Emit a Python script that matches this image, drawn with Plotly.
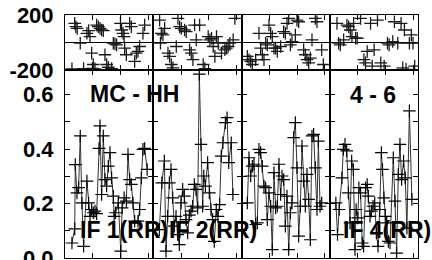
import plotly.graph_objects as go
from plotly.subplots import make_subplots

# ---- data (time in hours, amplitude in Jy, phase in degrees) ----
if_labels = ["IF 1(RR)", "IF 2(RR)", "", "IF 4(RR)"]

amp_t1 = [0.25, 0.35, 0.37, 0.43, 0.49, 0.55, 0.61, 0.67, 0.79, 0.85, 0.90, 0.96, 1.02, 1.08, 1.14,
          1.23, 1.26, 1.32, 1.38, 1.44, 1.50, 1.56, 1.62, 1.68, 1.74, 1.77, 1.82, 1.92, 2.01, 2.06,
          2.13, 2.21, 2.27, 2.33, 2.39, 2.45, 2.51, 2.63, 2.69, 2.75, 2.81, 2.87, 2.96]
amp_v1 = [0.055, 0.107, 0.343, 0.239, 0.258, 0.448, 0.202, 0.043, 0.282, 0.202, 0.153, 0.178, 0.166,
          0.172, 0.163, 0.402, 0.485, 0.233, 0.448, 0.288, 0.264, 0.337, 0.387, 0.294, 0.227, 0.153,
          0.166, 0.202, 0.025, 0.184, 0.221, 0.209, 0.380, 0.288, 0.270, 0.202, 0.135, 0.135, 0.178,
          0.294, 0.399, 0.402, 0.325]

amp_t2 = [0.22, 0.31, 0.40, 0.46, 0.52, 0.58, 0.64, 0.70, 0.76, 0.82, 0.88, 0.94, 1.00, 1.06, 1.12,
          1.18, 1.24, 1.30, 1.36, 1.42, 1.48, 1.54, 1.60, 1.66, 1.72, 1.78, 1.82, 1.88, 1.96, 2.02,
          2.08, 2.14, 2.20, 2.27, 2.33, 2.39, 2.45, 2.51, 2.60, 2.66, 2.72, 2.81, 2.87]
amp_v2 = [0.104, 0.276, 0.356, 0.025, 0.153, 0.276, 0.325, 0.221, 0.117, 0.153, 0.086, 0.049, 0.202,
          0.252, 0.227, 0.141, 0.092, 0.157, 0.172, 0.190, 0.270, 0.252, 0.184, 0.675, 0.417, 0.190,
          0.301, 0.264, 0.350, 0.239, 0.178, 0.141, 0.061, 0.178, 0.153, 0.196, 0.374, 0.423, 0.497,
          0.515, 0.350, 0.423, 0.233]

amp_t3 = [0.21, 0.27, 0.33, 0.39, 0.45, 0.51, 0.57, 0.63, 0.69, 0.75, 0.81, 0.87, 0.93, 0.99, 1.05,
          1.11, 1.17, 1.23, 1.29, 1.35, 1.41, 1.46, 1.52, 1.58, 1.64, 1.70, 1.76, 1.82, 1.88, 1.94,
          2.00, 2.06, 2.12, 2.18, 2.24, 2.30, 2.36, 2.42, 2.48, 2.54, 2.60, 2.66, 2.72, 2.77, 2.83, 2.89]
amp_v3 = [0.202, 0.368, 0.301, 0.337, 0.344, 0.123, 0.129, 0.399, 0.387, 0.337, 0.264, 0.258, 0.141,
          0.239, 0.190, 0.031, 0.313, 0.184, 0.190, 0.344, 0.233, 0.301, 0.288, 0.117, 0.227, 0.031,
          0.166, 0.202, 0.442, 0.497, 0.331, 0.080, 0.190, 0.411, 0.282, 0.190, 0.307, 0.215, 0.067,
          0.448, 0.454, 0.331, 0.178, 0.429, 0.190, 0.202]

amp_t4 = [0.22, 0.28, 0.34, 0.44, 0.49, 0.55, 0.61, 0.67, 0.73, 0.79, 0.85, 0.91, 0.95, 1.01, 1.05,
          1.11, 1.17, 1.22, 1.29, 1.35, 1.39, 1.45, 1.50, 1.56, 1.62, 1.68, 1.74, 1.80, 1.86, 1.90,
          1.95, 2.00, 2.05, 2.11, 2.17, 2.29, 2.35, 2.41, 2.47, 2.53, 2.59, 2.66, 2.72, 2.78, 2.87, 2.96]
amp_v4 = [0.202, 0.086, 0.178, 0.294, 0.399, 0.417, 0.393, 0.239, 0.129, 0.356, 0.325, 0.031, 0.178,
          0.147, 0.258, 0.239, 0.055, 0.043, 0.258, 0.270, 0.227, 0.153, 0.172, 0.190, 0.202, 0.092,
          0.043, 0.178, 0.387, 0.325, 0.221, 0.153, 0.129, 0.061, 0.055, 0.368, 0.209, 0.018, 0.307,
          0.417, 0.288, 0.356, 0.294, 0.110, 0.540, 0.215]

ph_t1 = [0.25, 0.35, 0.39, 0.44, 0.55, 0.67, 0.79, 0.85, 0.90, 0.96, 0.99, 1.02, 1.08, 1.14, 1.20,
         1.26, 1.32, 1.38, 1.44, 1.50, 1.56, 1.68, 1.74, 1.80, 1.86, 2.00, 2.04, 2.09, 2.13, 2.15,
         2.21, 2.33, 2.39, 2.51, 2.57, 2.63, 2.69, 2.81, 2.87]
ph_v1 = [-192, 139, 115, 103, -5, -190, 67, 86, 43, -77, -188, -160, -192, 127, 115, 103, 91, 86,
         -89, -160, -180, -190, -5, -10, -17, 139, 91, 67, 43, -41, -89, 139, 115, -137, -77, -65,
         -29, 67, 127]

ph_t2 = [0.23, 0.26, 0.29, 0.35, 0.41, 0.53, 0.59, 0.65, 0.71, 0.83, 0.89, 0.95, 1.01, 1.13, 1.19,
         1.31, 1.37, 1.43, 1.49, 1.55, 1.67, 1.80, 1.86, 1.98, 2.04, 2.10, 2.16, 2.22, 2.28, 2.34,
         2.46, 2.58, 2.64, 2.70, 2.76, 2.88, 2.94]
ph_v2 = [163, -5, 67, 55, 103, -77, -101, -160, -184, -29, 175, 115, 103, 91, 79, -53, -77, -125,
         127, 19, 127, -160, -190, 43, 19, 31, -29, -101, 43, -5, -77, -53, -41, -29, -5, 19, 175]

ph_t3 = [0.21, 0.27, 0.33, 0.39, 0.51, 0.63, 0.69, 0.75, 0.81, 0.87, 0.93, 0.99, 1.05, 1.11, 1.17,
         1.23, 1.29, 1.41, 1.52, 1.58, 1.64, 1.70, 1.76, 1.82, 1.94, 2.00, 2.06, 2.24, 2.30, 2.36,
         2.42, 2.48, 2.54, 2.66, 2.72, 2.89, 2.95]
ph_v3 = [-101, -125, -137, -160, -125, 67, -41, -89, -125, -5, -17, 127, 67, 43, -41, -41, -65, -29,
         79, 67, 139, 175, -17, 7, 55, 163, 151, -53, -89, -125, -148, -113, 19, 175, 151, -53, -160]

ph_t4 = [0.26, 0.32, 0.38, 0.50, 0.62, 0.68, 0.74, 0.80, 0.86, 0.93, 0.99, 1.11, 1.23, 1.29, 1.35,
         1.47, 1.53, 1.60, 1.72, 1.84, 1.96, 2.08, 2.14, 2.27, 2.33, 2.45, 2.57, 2.63, 2.69, 2.75,
         2.87, 2.94, 3.00, 3.06]
ph_v4 = [139, -5, -17, 19, 127, 115, 91, 43, 139, 31, 31, 175, -125, -148, -65, 139, -172, -53, 163,
         -148, -172, -5, -17, 7, 151, -5, 139, -184, 91, -195, -5, 55, -5, -172]

amp_t = [amp_t1, amp_t2, amp_t3, amp_t4]
amp_v = [amp_v1, amp_v2, amp_v3, amp_v4]
ph_t = [ph_t1, ph_t2, ph_t3, ph_t4]
ph_v = [ph_v1, ph_v2, ph_v3, ph_v4]

phase_ticks = [-200, 200]
phase_ticktext = ["-200", "200"]
amp_ticks = [0.0, 0.1, 0.2, 0.3, 0.4, 0.5, 0.6]
amp_ticktext = ["0.0", "", "0.2", "", "0.4", "", "0.6"]
time_ticks = [1, 2, 3]

TICKFONT = dict(family="Liberation Sans, Arial, sans-serif", size=22, color="black", weight="bold")
LABFONT = dict(family="Liberation Sans, Arial, sans-serif", size=23, color="black", weight="bold")

fig = make_subplots(rows=2, cols=4, row_heights=[55, 188],
                    horizontal_spacing=0, vertical_spacing=0)

for i in range(4):
    fig.add_trace(go.Scatter(
        x=ph_t[i], y=ph_v[i], mode="markers",
        marker=dict(symbol="cross-thin", size=9, line=dict(width=1.3, color="#1a1a1a")),
        showlegend=False, hoverinfo="skip"), row=1, col=i + 1)
    fig.add_trace(go.Scatter(
        x=amp_t[i], y=amp_v[i], mode="lines+markers",
        line=dict(color="#333", width=1),
        marker=dict(symbol="cross-thin", size=9, line=dict(width=1.2, color="black")),
        showlegend=False, hoverinfo="skip"), row=2, col=i + 1)

fig.update_xaxes(range=[0, 3.18], tickvals=time_ticks, ticks="inside", ticklen=5,
                 tickcolor="black", showticklabels=False, showline=True, linecolor="black",
                 linewidth=1, mirror="allticks", showgrid=False, zeroline=False,
                 automargin=False)

for c in range(1, 5):
    fig.update_yaxes(range=[-200, 200], tickvals=phase_ticks, ticktext=phase_ticktext,
                     ticks="", showticklabels=(c == 1), tickfont=TICKFONT, ticklabelstandoff=6,
                     ticklabeloverflow="allow",
                     showline=True, linecolor="black", linewidth=1, mirror=True,
                     showgrid=False, zeroline=True, zerolinecolor="black", zerolinewidth=1,
                     automargin=False, row=1, col=c)
    fig.update_yaxes(range=[0, 0.69], tickvals=amp_ticks, ticktext=amp_ticktext,
                     ticks="inside", ticklen=5, tickcolor="black",
                     showticklabels=(c == 1), tickfont=TICKFONT, ticklabelstandoff=6,
                     ticklabeloverflow="allow",
                     showline=True, linecolor="black", linewidth=1, mirror="allticks",
                     showgrid=False, zeroline=False, automargin=False, row=2, col=c)

annots = [("MC - HH", 0.198, 0.675), ("4 - 6", 0.873, 0.671),
          (if_labels[0], 0.167, 0.115), (if_labels[1], 0.419, 0.115),
          (if_labels[3], 0.912, 0.115)]
for txt, ax, ay in annots:
    fig.add_annotation(text=txt, x=ax, y=ay, xref="paper", yref="paper",
                       showarrow=False, font=LABFONT, xanchor="center", yanchor="middle")

fig.update_layout(width=432, height=260, margin=dict(l=65, r=14, t=15, b=2),
                  paper_bgcolor="white", plot_bgcolor="white")

fig.write_html("out.html", config={"displayModeBar": False},
               post_script="document.body.style.margin='0';document.body.style.padding='0';")
